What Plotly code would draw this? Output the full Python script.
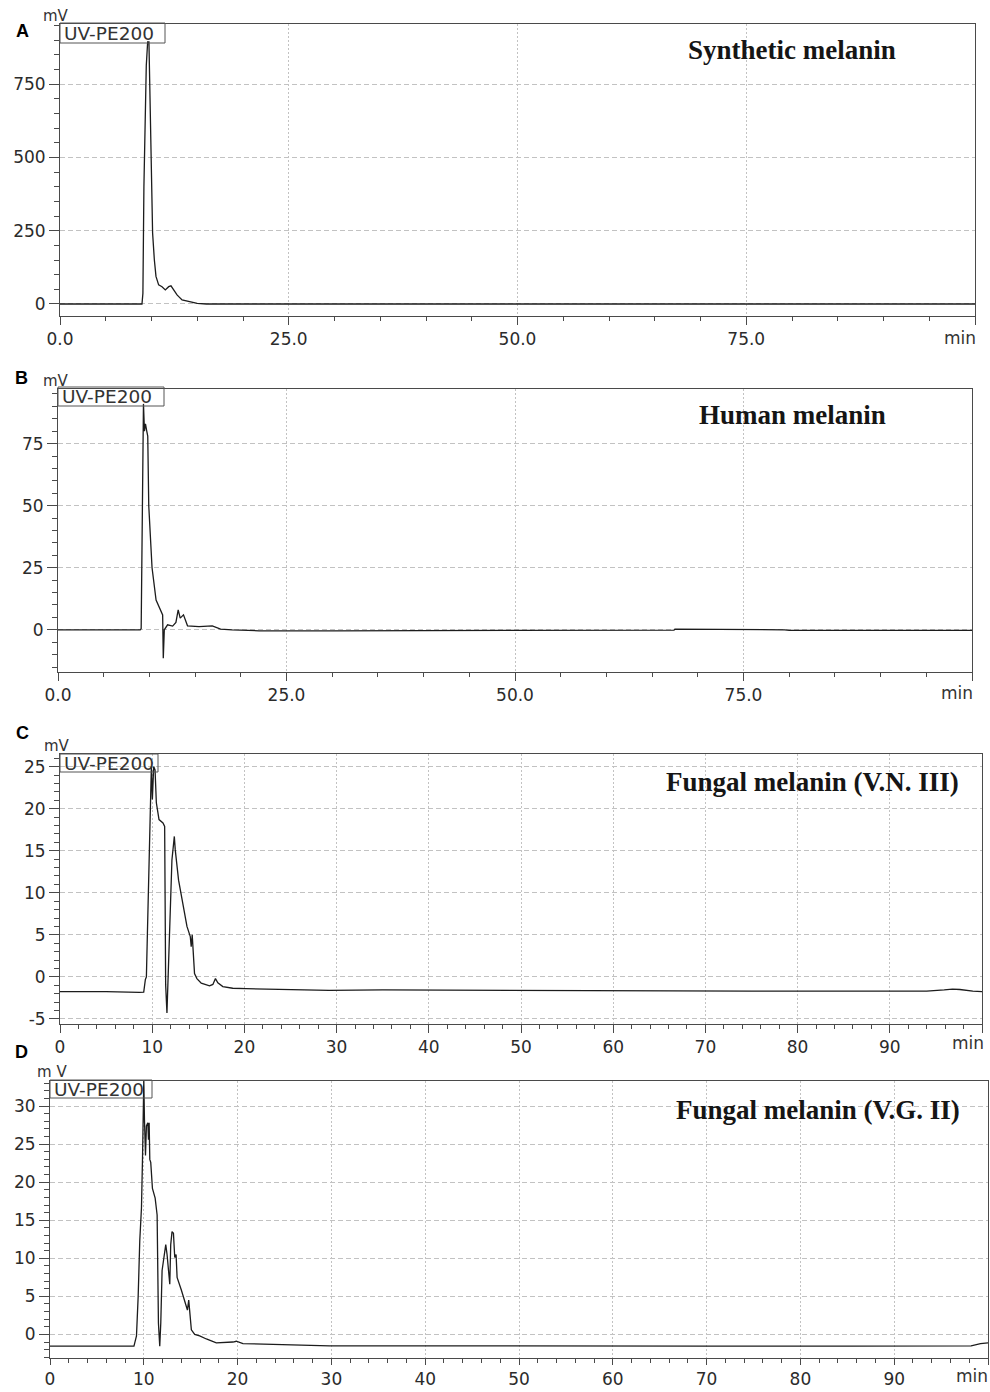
import plotly.graph_objects as go

W, H = 990, 1392

# ---- Chromatogram A: synthetic melanin (time in min, signal in mV)
A_TIME = [0, 8.96, 9.06, 9.17, 9.43, 9.58, 9.72, 9.80, 9.94, 10.12, 10.31, 10.49,
          10.78, 11.15, 11.51, 11.88, 12.13, 12.43, 12.79, 13.34, 14.07, 14.99, 16.0, 100]
A_MV = [0, 0, 36, 400, 813, 894, 894, 750, 493, 242, 151, 94,
        65, 59, 48, 59, 62, 48, 31, 14, 9, 2, 0, 0]

# ---- Chromatogram B: human melanin
B_TIME = [0, 9.0, 9.10, 9.21, 9.35, 9.46, 9.57, 9.71, 9.82, 9.93, 10.29, 10.73,
          11.27, 11.45, 11.52, 11.56, 11.63, 11.99, 12.54, 12.90, 13.15, 13.37,
          13.73, 14.17, 15.43, 16.88, 17.79, 19.06, 21.6, 22.0, 30.0, 45.0, 60.0,
          67.4, 67.5, 76.0, 76.5, 79.5, 80.0, 100]
B_MV = [0, 0, 0.5, 36, 91, 80, 83, 80, 78, 50, 25, 12,
        7, 6, -11.5, -3, 0, 2, 1.5, 3, 8, 4.7,
        6, 1.6, 1.3, 1.6, 0.3, 0, -0.2, -0.4, -0.4, -0.3, -0.2,
        -0.1, 0.3, 0.3, 0.0, 0.0, -0.2, -0.2]

# ---- Chromatogram C: fungal melanin (V.N. III)
C_TIME = [0, 5.0, 8.6, 9.08, 9.26, 9.37, 9.48, 9.59, 9.69, 9.80, 9.91, 10.02,
          10.16, 10.31, 10.45, 10.74, 11.17, 11.35, 11.46, 11.60, 11.71, 11.86,
          11.96, 12.14, 12.40, 12.50, 12.86, 13.33, 13.77, 14.13, 14.23, 14.34,
          14.41, 14.59, 14.85, 15.32, 16.22, 16.58, 16.86, 17.12, 17.66, 18.74,
          20.18, 22.34, 25.95, 29.19, 35.0, 45.0, 55.0, 65.0, 75.0, 85.0, 94.0,
          95.9, 96.8, 97.6, 99.0, 100]
C_MV = [-1.75, -1.75, -1.85, -1.8, -0.3, 0, 5.2, 10.1, 15.0, 20.0, 25.0, 21.1,
        25.0, 24.6, 20.7, 18.7, 18.3, 17.9, -0.95, -4.3, -0.4, 5.2,
        10.1, 13.9, 16.7, 15.1, 11.5, 8.4, 6.0, 4.8, 3.6, 5.0,
        3.2, 0.4, -0.2, -0.75, -1.07, -0.9, -0.2, -0.7, -1.15, -1.35,
        -1.4, -1.45, -1.5, -1.6, -1.55, -1.6, -1.65, -1.7, -1.7, -1.7, -1.7,
        -1.55, -1.45, -1.5, -1.7, -1.75]

# ---- Chromatogram D: fungal melanin (V.G. II)
D_TIME = [0, 5.0, 8.95, 9.22, 9.40, 9.57, 9.75, 9.86, 9.93, 10.0, 10.07, 10.18,
          10.28, 10.43, 10.50, 10.57, 10.64, 10.74, 10.92, 11.21, 11.42, 11.56,
          11.70, 11.81, 11.95, 12.16, 12.34, 12.48, 12.66, 12.77, 12.87, 13.01,
          13.16, 13.30, 13.44, 13.55, 14.01, 14.36, 14.65, 14.79, 14.93, 15.07,
          15.43, 15.96, 16.67, 17.73, 19.50, 19.86, 20.57, 23.05, 26.6, 29.8,
          40.0, 55.0, 70.0, 85.0, 98.2, 99.2, 100]
D_MV = [-1.55, -1.6, -1.55, -0.2, 5.0, 12.3, 16.6, 23.0, 28.2, 33.4, 28.2, 23.5,
        27.4, 27.8, 25.6, 27.8, 23.0, 22.6, 19.2, 17.9, 15.7, 1.5,
        -1.55, 1.5, 8.4, 10.1, 11.8, 10.5, 7.5, 6.6, 11.8, 13.5,
        13.3, 10.1, 10.5, 7.5, 5.8, 4.3, 3.2, 4.5, 2.8, 0.6,
        0.0, -0.2, -0.6, -1.1, -1.0, -0.9, -1.2, -1.3, -1.4, -1.5,
        -1.5, -1.55, -1.55, -1.55, -1.5, -1.2, -1.1]

# ---- tick values and labels
AB_XTICKS = [0, 25, 50, 75, 100]
AB_XLABELS = ["0.0", "25.0", "50.0", "75.0", ""]
CD_XTICKS = [0, 10, 20, 30, 40, 50, 60, 70, 80, 90, 100]
CD_XLABELS = ["0", "10", "20", "30", "40", "50", "60", "70", "80", "90", ""]
A_YTICKS = [0, 250, 500, 750]
B_YTICKS = [0, 25, 50, 75]
C_YTICKS = [-5, 0, 5, 10, 15, 20, 25]
D_YTICKS = [0, 5, 10, 15, 20, 25, 30]

TITLES = ["Synthetic melanin", "Human melanin",
          "Fungal melanin (V.N. III)", "Fungal melanin (V.G. II)"]
LETTERS = ["A", "B", "C", "D"]
DETECTOR = "UV-PE200"


def px(x):
    return x / W


def py(y):
    return 1 - y / H


panels = [
    dict(time=A_TIME, mv=A_MV, frame=(60, 24, 975, 316), yrange=[-41, 955],
         xticks=AB_XTICKS, xlabels=AB_XLABELS, xminor=5, yticks=A_YTICKS, yminor=50,
         xticklen=8, letter=(22, 31), unit=(56, 16), unit_text="mV", minpos=(960, 338),
         title=(792, 50), tag=(60, 23, 165, 43)),
    dict(time=B_TIME, mv=B_MV, frame=(58, 389, 972, 672), yrange=[-17, 97],
         xticks=AB_XTICKS, xlabels=AB_XLABELS, xminor=5, yticks=B_YTICKS, yminor=5,
         xticklen=8, letter=(21, 378), unit=(56, 381), unit_text="mV", minpos=(957, 693),
         title=(792, 415), tag=(58, 387, 164, 406)),
    dict(time=C_TIME, mv=C_MV, frame=(60, 754, 982, 1024), yrange=[-5.6, 26.5],
         xticks=CD_XTICKS, xlabels=CD_XLABELS, xminor=2, yticks=C_YTICKS, yminor=1,
         xticklen=8, letter=(22, 733), unit=(57, 746), unit_text="mV", minpos=(968, 1043),
         title=(812, 782), tag=(60, 754, 158, 772)),
    dict(time=D_TIME, mv=D_MV, frame=(50, 1081, 988, 1358), yrange=[-3.1, 33.3],
         xticks=CD_XTICKS, xlabels=CD_XLABELS, xminor=2, yticks=D_YTICKS, yminor=1,
         xticklen=6, letter=(21, 1052), unit=(52, 1072), unit_text="m V", minpos=(972, 1376),
         title=(818, 1110), tag=(50, 1080, 152, 1098)),
]

AX = "#4a4a4a"
GRID = "#c2c2c2"
TICKFONT = dict(family="DejaVu Sans", size=17, color="#2b2b2b")

fig = go.Figure()
annotations = []
shapes = []

for i, p in enumerate(panels, start=1):
    sfx = "" if i == 1 else str(i)
    fig.add_trace(go.Scatter(
        x=p["time"], y=p["mv"], mode="lines",
        xaxis="x" + sfx, yaxis="y" + sfx,
        line=dict(color="#1c1c1c", width=1.3),
        hoverinfo="skip", showlegend=False,
    ))
    x0, y0, x1, y1 = p["frame"]
    common = dict(showline=True, mirror=True, linecolor=AX, linewidth=1,
                  ticks="outside", tickcolor=AX, tickwidth=1, zeroline=False,
                  showgrid=True, gridcolor=GRID, gridwidth=1, automargin=False,
                  tickfont=TICKFONT, fixedrange=True)
    fig.layout["xaxis" + sfx] = dict(
        domain=[px(x0), px(x1)], range=[0, 100], anchor="y" + sfx,
        tickmode="array", tickvals=p["xticks"], ticktext=p["xlabels"],
        ticklen=p["xticklen"], griddash="2px,2px",
        minor=dict(tickmode="linear", tick0=0, dtick=p["xminor"], ticks="outside",
                   ticklen=4, tickcolor=AX, tickwidth=1, showgrid=False),
        **common)
    fig.layout["yaxis" + sfx] = dict(
        domain=[py(y1), py(y0)], range=p["yrange"], anchor="x" + sfx,
        tickmode="array", tickvals=p["yticks"], ticktext=[str(v) for v in p["yticks"]],
        ticklen=10, griddash="5px,3px",
        minor=dict(tickmode="linear", tick0=0, dtick=p["yminor"], ticks="outside",
                   ticklen=5, tickcolor=AX, tickwidth=1, showgrid=False),
        **common)

    # detector tag box in the upper-left corner
    bx0, by0, bx1, by1 = p["tag"]
    shapes.append(dict(type="rect", xref="paper", yref="paper",
                       x0=px(bx0), x1=px(bx1), y0=py(by1), y1=py(by0),
                       line=dict(color="#555", width=1), fillcolor="rgba(0,0,0,0)"))
    annotations.append(dict(text=DETECTOR, xref="paper", yref="paper",
                            x=px(bx0 + 2), y=py((by0 + by1) / 2 + 0.5),
                            xanchor="left", yanchor="middle", showarrow=False,
                            font=dict(family="DejaVu Sans", size=18.5, color="#333")))
    # sample title
    tx, ty = p["title"]
    annotations.append(dict(text="<b>%s</b>" % TITLES[i - 1], xref="paper", yref="paper",
                            x=px(tx), y=py(ty), xanchor="center", yanchor="middle",
                            showarrow=False,
                            font=dict(family="Liberation Serif", size=27, color="#151515")))
    # panel letter
    lx, ly = p["letter"]
    annotations.append(dict(text="<b>%s</b>" % LETTERS[i - 1], xref="paper", yref="paper",
                            x=px(lx), y=py(ly), xanchor="center", yanchor="middle",
                            showarrow=False,
                            font=dict(family="Liberation Sans", size=18, color="#000")))
    # axis units
    ux, uy = p["unit"]
    annotations.append(dict(text=p["unit_text"], xref="paper", yref="paper",
                            x=px(ux), y=py(uy), xanchor="center", yanchor="middle",
                            showarrow=False,
                            font=dict(family="DejaVu Sans", size=15, color="#333")))
    mx, my = p["minpos"]
    annotations.append(dict(text="min", xref="paper", yref="paper",
                            x=px(mx), y=py(my), xanchor="center", yanchor="middle",
                            showarrow=False,
                            font=dict(family="DejaVu Sans", size=17, color="#333")))

fig.update_layout(
    width=W, height=H, margin=dict(l=0, r=0, t=0, b=0),
    paper_bgcolor="white", plot_bgcolor="white",
    showlegend=False, annotations=annotations, shapes=shapes,
)

fig.write_html("out.html")
